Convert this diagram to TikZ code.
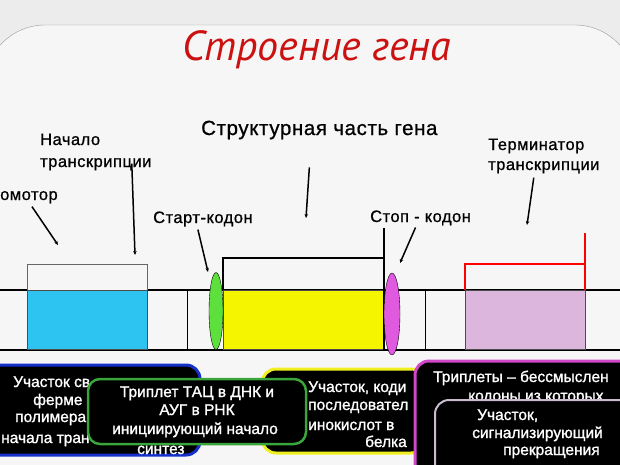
\documentclass[tikz,border=0pt]{standalone}
\usepackage{fontspec}
\setmainfont{Liberation Sans}
\newfontfamily\titlefont{PT Sans}
\newfontfamily\lblfont[LetterSpace=3,FakeBold=0.8]{Liberation Sans}
\newfontfamily\boxfont[FakeBold=1.2]{Liberation Sans}
\usetikzlibrary{shapes.geometric,arrows.meta}
\definecolor{bgout}{HTML}{ECECEC}
\definecolor{bgin}{HTML}{F6F6F6}
\definecolor{titlered}{HTML}{CC1111}
\definecolor{promblue}{HTML}{2EC4F2}
\definecolor{codgreen}{HTML}{5EE03C}
\definecolor{exyellow}{HTML}{F5F500}
\definecolor{stopmag}{HTML}{E05AE0}
\definecolor{termlil}{HTML}{DDB6DD}
\definecolor{bordblue}{HTML}{1530C8}
\definecolor{bordgreen}{HTML}{3AA53A}
\definecolor{bordyel}{HTML}{F0F020}
\definecolor{bordmag}{HTML}{D048C8}
\definecolor{bordgray}{HTML}{C8BCD0}
\begin{document}
\begin{tikzpicture}[x=1pt,y=-1pt,
    lbl/.style={font=\lblfont\fontsize{16.5}{19}\selectfont, inner sep=0pt, anchor=base west},
    ptr/.style={line width=1.5pt, -{Stealth[length=4pt,width=3.5pt]}},
    info/.style={fill=black, rounded corners=14pt, line width=3pt},
    wtxt/.style={text=white, font=\boxfont\fontsize{15.5}{18}\selectfont, inner sep=0pt, anchor=base west}]
    \useasboundingbox (0,0) rectangle (620,464);
    \clip (0,0) rectangle (620,464);
    \fill[bgout] (0,0) rectangle (620,464);
    \draw[black!40, fill=bgin, rounded corners=60pt] (-15,25) rectangle (635,540);
    \node[font=\titlefont\itshape\fontsize{42}{44}\selectfont, text=titlered, anchor=base] (title) at (317,60) {Строение гена};

    \draw[line width=1.5pt] (0,290) -- (620,290);
    \draw[line width=2pt] (0,350) -- (620,350);
    \draw[black!60, fill=bgin] (27,264) rectangle (147,290);
    \draw[black!70, fill=promblue] (27,290) rectangle (147,349);
    \draw[line width=1pt] (187,290) -- (187,350);
    \draw[black!70, fill=exyellow] (223,290) rectangle (384,349);
    \draw[line width=1.3pt] (223,290) |- (384,258);
    \draw[line width=1.3pt] (384,228) -- (384,350);
    \node[ellipse, draw, fill=codgreen, minimum width=14pt, minimum height=77pt, inner sep=0pt] (startcod) at (216,311) {};
    \node[ellipse, draw, fill=stopmag, minimum width=16pt, minimum height=82pt, inner sep=0pt] (stopcod) at (392,314) {};
    \draw[line width=1pt] (425,290) -- (425,350);
    \draw[black!70, fill=termlil] (465,290) rectangle (585,349);
    \draw[red, line width=1.3pt] (465,290) |- (585,264);
    \draw[red, line width=1.3pt] (585,233) -- (585,290);

    \node[lbl] (promlbl) at (0,200) {омотор};
    \node[lbl] (inilbl) at (40,145) {Начало};
    \node[lbl] (inilblb) at (40,167) {транскрипции};
    \node[lbl, font=\lblfont\fontsize{20.5}{24}\selectfont] (structlbl) at (201,135) {Структурная часть гена};
    \node[lbl] (startlbl) at (153,223) {Старт-кодон};
    \node[lbl] (stoplbl) at (370,222) {Стоп - кодон};
    \node[lbl] (termlbl) at (488,150) {Терминатор};
    \node[lbl] (termlblb) at (488,170) {транскрипции};

    \coordinate (promtip) at (58,245);
    \coordinate (initip) at (135,255);
    \coordinate (structtip) at (306,218);
    \coordinate (starttip) at (208,272);
    \coordinate (stoptip) at (400,263);
    \coordinate (termtip) at (527,225);
    \draw[ptr] ([xshift=3pt,yshift=-3pt]promlbl.south) -- (promtip);
    \draw[ptr] ([xshift=36pt,yshift=7pt]inilblb.south) -- (initip);
    \draw[ptr] ([xshift=-10pt,yshift=-28pt]structlbl.south) -- (structtip);
    \draw[ptr] ([xshift=-5pt,yshift=-3pt]startlbl.south) -- (starttip);
    \draw[ptr] ([xshift=-5pt,yshift=-2pt]stoplbl.south) -- (stoptip);
    \draw[ptr] ([xshift=-10pt,yshift=-4pt]termlblb.south) -- (termtip);

    \draw[info, draw=bordblue] (-20,365) rectangle (200,455);
    \node[wtxt] (bl1) at (13,387) {Участок св};
    \node[wtxt] (bl2) at (33,405) {ферме};
    \node[wtxt] (bl3) at (15,422) {полимера};
    \node[wtxt] (bl4) at (1,443) {начала тран};
    \draw[info, draw=bordyel] (262,369) rectangle (425,453);
    \node[wtxt] (yl1) at (308,392) {Участок, коди};
    \node[wtxt] (yl2) at (308,410) {последовател};
    \node[wtxt] (yl3) at (308,430) {инокислот в};
    \node[wtxt] (yl4) at (365,447) {белка};
    \draw[info, draw=bordgreen, line width=2.5pt, rounded corners=12pt] (88,379) rectangle (306,444);
    \node[wtxt, anchor=base] (gl1) at (197,397) {Триплет ТАЦ в ДНК и};
    \node[wtxt, anchor=base] (gl2) at (197,415) {АУГ в РНК};
    \node[wtxt, anchor=base] (gl3) at (195,434) {инициирующий начало};
    \node[wtxt] (gl4) at (137,454) {синтез};
    \draw[info, draw=bordmag] (415,361) rectangle (660,480);
    \node[wtxt] (ml1) at (433,382) {Триплеты – бессмыслен};
    \node[wtxt] (ml2) at (468,401) {кодоны из которых};
    \draw[info, draw=bordgray, line width=2pt] (435,400) rectangle (660,490);
    \node[wtxt] (gr1) at (477,420) {Участок,};
    \node[wtxt] (gr2) at (472,438) {сигнализирующий};
    \node[wtxt] (gr3) at (503,455) {прекращения};
\end{tikzpicture}
\end{document}
